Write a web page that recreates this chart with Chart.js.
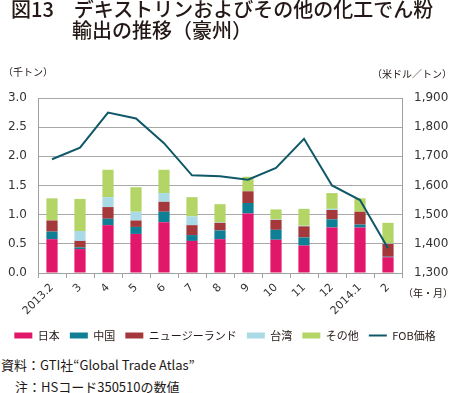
<!DOCTYPE html>
<html><head><meta charset="utf-8">
<script src="https://cdn.jsdelivr.net/npm/chart.js@4"></script>
<style>
html,body{margin:0;padding:0;background:#fff;}
#wrap{position:relative;width:450px;height:393px;overflow:hidden;font-family:"Noto Sans CJK JP","Noto Sans",sans-serif;color:#231815;}
#c{position:absolute;left:0;top:0;}
.t{position:absolute;white-space:nowrap;}
</style></head><body>
<div id="wrap">
<canvas id="c" width="450" height="351"></canvas>
<div class="t" style="left:11px;top:-1px;font-size:20px;line-height:20px;font-weight:500;">図13　デキストリンおよびその他の化工でん粉</div>
<div class="t" style="left:72px;top:20px;font-size:20px;line-height:20px;font-weight:500;">輸出の推移（豪州）</div>
<div class="t" style="left:3px;top:64px;font-size:10px;">（千トン）</div>
<div class="t" style="left:372px;top:66px;font-size:10px;">（米ドル／トン）</div>
<div class="t" style="left:403px;top:285px;font-size:10px;">（年・月）</div>
<div class="t" style="left:1px;top:355px;font-size:13px;">資料：GTI社“Global Trade Atlas”</div>
<div class="t" style="left:15px;top:377px;font-size:13px;">注：HSコード350510の数値</div>
</div>
<script>
const categories = ['2013.2','3','4','5','6','7','8','9','10','11','12','2014.1','2'];
const japan   = [0.58,0.41,0.82,0.67,0.87,0.55,0.58,1.02,0.57,0.47,0.78,0.78,0.27];
const china   = [0.13,0.03,0.11,0.12,0.18,0.10,0.15,0.18,0.17,0.14,0.14,0.05,0.01];
const nz      = [0.19,0.11,0.20,0.11,0.17,0.17,0.13,0.20,0.17,0.19,0.16,0.22,0.22];
const taiwan  = [0.00,0.17,0.17,0.15,0.15,0.15,0.01,0.00,0.01,0.01,0.02,0.00,0.01];
const others  = [0.38,0.55,0.47,0.42,0.40,0.33,0.31,0.25,0.17,0.29,0.27,0.23,0.35];
const fob     = [1690,1730,1850,1830,1745,1635,1632,1620,1660,1760,1600,1550,1385];

const leftTicks = {min:0, max:3, step:0.5};
const rightTicks = {min:1300, max:1900, step:100};

const tickFont = {family:'"DejaVu Sans", sans-serif', size:12};
const jpFont = '"Noto Sans CJK JP", sans-serif';

function bar(label, data, color){
  return {type:'bar', label, data, backgroundColor:color, borderWidth:0,
          yAxisID:'y', stack:'s', order:1, barPercentage:0.4, categoryPercentage:1};
}

new Chart(document.getElementById('c'), {
  data:{
    labels:categories,
    datasets:[
      bar('日本', japan, '#E2166B'),
      bar('中国', china, '#0E7F95'),
      bar('ニュージーランド', nz, '#A4383A'),
      bar('台湾', taiwan, '#A9DAE5'),
      bar('その他', others, '#B3D565'),
      {type:'line', label:'FOB価格', data:fob, borderColor:'#0F5868', backgroundColor:'#0F5868',
       borderWidth:2, pointRadius:0, tension:0, yAxisID:'y1', order:0}
    ]
  },
  options:{
    responsive:false, animation:false,
    layout:{padding:{top:98,left:0,right:0,bottom:0}},
    plugins:{
      tooltip:{enabled:false},
      legend:{position:'bottom',
        labels:{usePointStyle:true, pointStyleWidth:18, boxHeight:6, padding:10, color:'#231815',
          font:{family:jpFont, size:11},
          generateLabels(chart){
            return chart.data.datasets.map((ds,i)=>({
              text:ds.label, fillStyle:ds.type==='line'?'rgba(0,0,0,0)':ds.backgroundColor,
              strokeStyle:ds.type==='line'?ds.borderColor:ds.backgroundColor,
              lineWidth:ds.type==='line'?2:0, pointStyle:ds.type==='line'?'line':'rect',
              datasetIndex:i, hidden:false, fontColor:'#231815'
            }));
          }
        }
      }
    },
    scales:{
      x:{stacked:true, offset:true,
        grid:{display:true, offset:true, drawOnChartArea:false, drawTicks:true, tickLength:5, color:'#a0a0a0'},
        border:{display:true, color:'#a0a0a0', width:1},
        ticks:{minRotation:45, maxRotation:45, autoSkip:false, font:{family:tickFont.family, size:11}, color:'#333', padding:3},
        afterFit(s){ s.height = 47; }
      },
      y:{position:'left', stacked:true, min:leftTicks.min, max:leftTicks.max,
        ticks:{stepSize:leftTicks.step, font:tickFont, color:'#333', padding:11, callback:v=>v.toFixed(1)},
        grid:{color:'#a9a9a9', drawTicks:false, lineWidth:1},
        border:{display:true, color:'#a0a0a0'},
        afterFit(s){ s.width = 38; }
      },
      y1:{position:'right', stacked:false, min:rightTicks.min, max:rightTicks.max,
        ticks:{stepSize:rightTicks.step, font:tickFont, color:'#333', padding:12, callback:v=>v.toLocaleString('en-US')},
        grid:{display:false, drawTicks:false},
        border:{display:true, color:'#a0a0a0'},
        afterFit(s){ s.width = 48; }
      }
    }
  }
});
</script>
</body></html>
